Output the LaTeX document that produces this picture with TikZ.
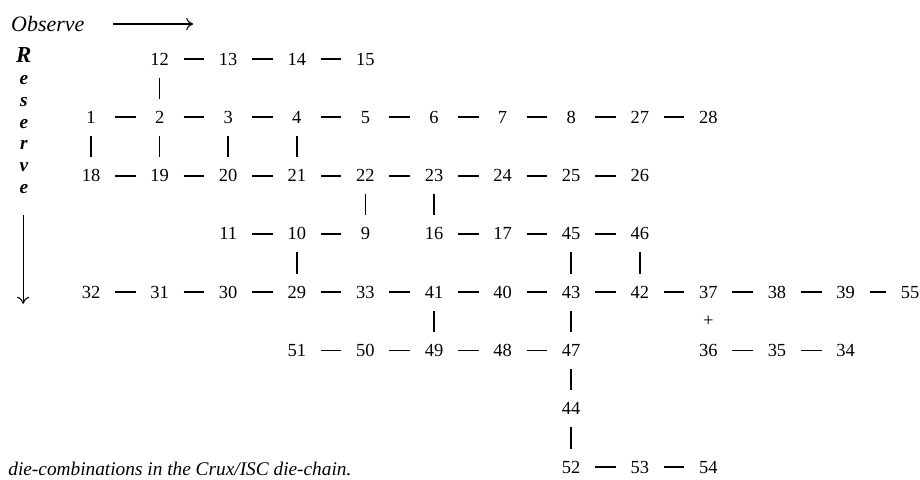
\documentclass[tikz,border=0pt]{standalone}
\usepackage{fontspec}
\setmainfont{Liberation Serif}
\usetikzlibrary{arrows.meta}

\begin{document}
\begin{tikzpicture}[>={To[length=4pt,width=7pt]}, x=1.372cm, y=-1.166cm,
    die/.style={inner sep=1pt, font=\fontsize{10.5}{12}\selectfont},
    hdash/.style={line width=1.1pt, shorten <=0.48cm, shorten >=0.48cm},
    vbar/.style={line width=0.85pt, shorten <=0.37cm, shorten >=0.37cm}]
                \useasboundingbox (-1.327,-1.012) rectangle (12.085,7.221);

                % axes labels
                \node[font=\fontsize{12.5}{14}\selectfont\itshape] (obs) at (-0.63,-0.6) {Observe};
                \coordinate (obsstart) at (0.32,-0.6);
                \coordinate (obsend) at (1.49,-0.6);
                \draw[->, line width=0.6pt] (obsstart) -- (obsend);
                \node[anchor=north, align=center, inner sep=0pt,
                      font=\fontsize{11}{12.4}\selectfont\bfseries\itshape] (res) at (-0.98,-0.2)
                      {{\fontsize{13}{14}\selectfont R}\\e\\s\\e\\r\\v\\e};
                \coordinate (restop) at (-0.99,2.68);
                \coordinate (resbot) at (-0.99,4.2);
                \draw[->, line width=0.6pt] (restop) -- (resbot);

                % die-combinations
                \foreach \n/\c/\r in {12/1/0, 13/2/0, 14/3/0, 15/4/0,
                    1/0/1, 2/1/1, 3/2/1, 4/3/1, 5/4/1, 6/5/1, 7/6/1, 8/7/1, 27/8/1, 28/9/1,
                    18/0/2, 19/1/2, 20/2/2, 21/3/2, 22/4/2, 23/5/2, 24/6/2, 25/7/2, 26/8/2,
                    11/2/3, 10/3/3, 9/4/3, 16/5/3, 17/6/3, 45/7/3, 46/8/3,
                    32/0/4, 31/1/4, 30/2/4, 29/3/4, 33/4/4, 41/5/4, 40/6/4, 43/7/4, 42/8/4,
                    37/9/4, 38/10/4, 39/11/4, 55/11.94/4,
                    51/3/5, 50/4/5, 49/5/5, 48/6/5, 47/7/5, 36/9/5, 35/10/5, 34/11/5,
                    44/7/6, 52/7/7, 53/8/7, 54/9/7}
                    \node[die] (n\n) at (\c,\r) {\n};

                \foreach \a/\b in {12/13, 13/14, 14/15,
                    1/2, 2/3, 3/4, 4/5, 5/6, 6/7, 7/8, 8/27, 27/28,
                    18/19, 19/20, 20/21, 21/22, 22/23, 23/24, 24/25, 25/26,
                    11/10, 10/9, 16/17, 17/45, 45/46,
                    32/31, 31/30, 30/29, 29/33, 33/41, 41/40, 40/43, 43/42, 42/37, 37/38, 38/39, 39/55,
                    51/50, 50/49, 49/48, 48/47, 36/35, 35/34, 52/53, 53/54}
                    \draw[hdash] (n\a.center) -- (n\b.center);

                \foreach \a/\b in {12/2, 1/18, 2/19, 3/20, 4/21, 22/9, 23/16, 10/29,
                    45/43, 46/42, 41/49, 43/47, 47/44, 44/52}
                    \draw[vbar] (n\a.center) -- (n\b.center);

                \path (n37) -- (n36) node[midway, die] (plus) {+};

                \node[anchor=west, inner sep=0pt, font=\fontsize{11}{13}\selectfont\itshape] (cap) at (-1.21,7.03)
                    {die-combinations in the Crux/ISC die-chain.};
            \end{tikzpicture}
\end{document}
